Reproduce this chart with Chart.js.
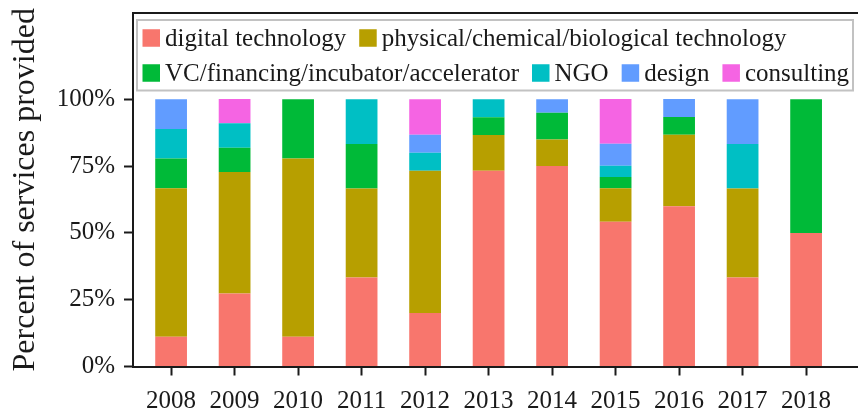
<!DOCTYPE html>
<html>
<head>
<meta charset="utf-8">
<script src="https://cdn.jsdelivr.net/npm/chart.js@4"></script>
<style>
html,body{margin:0;padding:0;background:#fff;overflow:hidden;font-family:"Liberation Serif",serif;}
#wrap{position:relative;width:858px;height:413px;}
</style>
</head>
<body>
<div id="wrap"><canvas id="c" width="858" height="413"></canvas></div>
<script>
const categories = ['2008','2009','2010','2011','2012','2013','2014','2015','2016','2017','2018'];
const seriesNames = ['digital technology','physical/chemical/biological technology','VC/financing/incubator/accelerator','NGO','design','consulting'];
const digital    = [11.1, 27.3, 11.1, 33.3, 20.0, 73.3, 75.0, 54.2, 60.0, 33.3, 50.0];
const physical   = [55.6, 45.5, 66.7, 33.3, 53.3, 13.3, 10.0, 12.5, 26.7, 33.3, 0];
const vc         = [11.1,  9.1, 22.2, 16.7,  0,    6.7, 10.0,  4.2,  6.7,  0,   50.0];
const ngo        = [11.1,  9.1,  0,   16.7,  6.7,  6.7,  0,    4.2,  0,   16.7,  0];
const design     = [11.1,  0,    0,    0,    6.7,  0,    5.0,  8.3,  6.7, 16.7,  0];
const consulting = [ 0,    9.1,  0,    0,   13.3,  0,    0,   16.7,  0,    0,    0];
const yTicks = [0, 25, 50, 75, 100];
const colors = ['#F8766D','#B79F00','#00BA38','#00BFC4','#619CFF','#F564E3'];

const allSeries = [digital, physical, vc, ngo, design, consulting];
const FONT = '"Liberation Serif", "Times New Roman", serif';
const ink = '#1a1a1a';

const datasets = allSeries.map((arr, k) => ({
  label: seriesNames[k],
  data: arr.map((v, i) => ({x: Number(categories[i]), y: v})),
  backgroundColor: colors[k],
  borderWidth: 0,
  categoryPercentage: 1.0,
  barPercentage: 0.5
}));

const boxLegend = {
  id: 'boxLegend',
  afterDraw(chart) {
    const ctx = chart.ctx, a = chart.chartArea;
    ctx.save();
    ctx.strokeStyle = ink; ctx.lineWidth = 2;
    ctx.beginPath(); ctx.moveTo(a.left - 1, a.top); ctx.lineTo(a.right, a.top); ctx.stroke();
    const bx = a.left + 4, by = a.top + 7, bw = 716, bh = 70.5;
    ctx.fillStyle = '#fff'; ctx.fillRect(bx, by, bw, bh);
    ctx.strokeStyle = '#c2c2c2'; ctx.lineWidth = 2; ctx.strokeRect(bx, by, bw, bh);
    ctx.font = '25px ' + FONT;
    ctx.textBaseline = 'alphabetic';
    ctx.textAlign = 'left';
    const rows = [[0, 1], [2, 3, 4, 5]];
    const cys = [by + 18, by + 53];
    const sq = 17.5;
    rows.forEach((row, r) => {
      let x = bx + 5.5;
      const cy = cys[r];
      row.forEach(i => {
        const ds = chart.data.datasets[i];
        ctx.fillStyle = ds.backgroundColor;
        ctx.fillRect(x, cy - sq / 2, sq, sq);
        ctx.fillStyle = ink;
        ctx.font = '25px ' + FONT;
        ctx.fillText(ds.label, x + sq + 5, cy + sq / 2 - 1);
        x += sq + 5 + ctx.measureText(ds.label).width + 13;
      });
    });
    ctx.restore();
  }
};

function build() {
  new Chart(document.getElementById('c'), {
    type: 'bar',
    data: { datasets },
    options: {
      responsive: false,
      animation: false,
      layout: { padding: { top: 13, left: 0, right: 0, bottom: 0 } },
      plugins: { legend: { display: false }, tooltip: { enabled: false } },
      scales: {
        x: {
          type: 'linear',
          stacked: true,
          offset: false,
          min: 2007.4,
          max: 2007.4 + 725 / 63.5,
          afterBuildTicks: s => { s.ticks = categories.map(c => ({ value: Number(c) })); },
          afterFit: s => { s.height = 46.5; s.paddingLeft = 0; s.paddingRight = 0; },
          border: { display: true, color: ink, width: 2 },
          grid: { display: true, offset: false, drawOnChartArea: false, drawTicks: true, tickLength: 9, tickWidth: 2, tickColor: ink },
          ticks: { color: ink, font: { family: FONT, size: 25 }, padding: 11, maxRotation: 0, autoSkip: false, callback: v => String(v) }
        },
        y: {
          stacked: true,
          min: 0,
          max: 132.3,
          afterBuildTicks: s => { s.ticks = yTicks.map(v => ({ value: v })); },
          afterFit: s => { s.width = 133; s.paddingTop = 0; s.paddingBottom = 0; },
          border: { display: true, color: ink, width: 2 },
          grid: { display: true, drawOnChartArea: false, drawTicks: true, tickLength: 9, tickWidth: 2, tickColor: ink },
          ticks: { color: ink, font: { family: FONT, size: 25 }, padding: 9, callback: v => v + '%' },
          title: { display: true, text: 'Percent of services provided', color: ink, font: { family: FONT, size: 32 }, padding: { top: 6, bottom: 0 } }
        }
      }
    },
    plugins: [boxLegend]
  });
}

Promise.all([
  document.fonts.load('25px "Liberation Serif"'),
  document.fonts.load('32px "Liberation Serif"')
]).catch(() => {}).then(build);
</script>
</body>
</html>
